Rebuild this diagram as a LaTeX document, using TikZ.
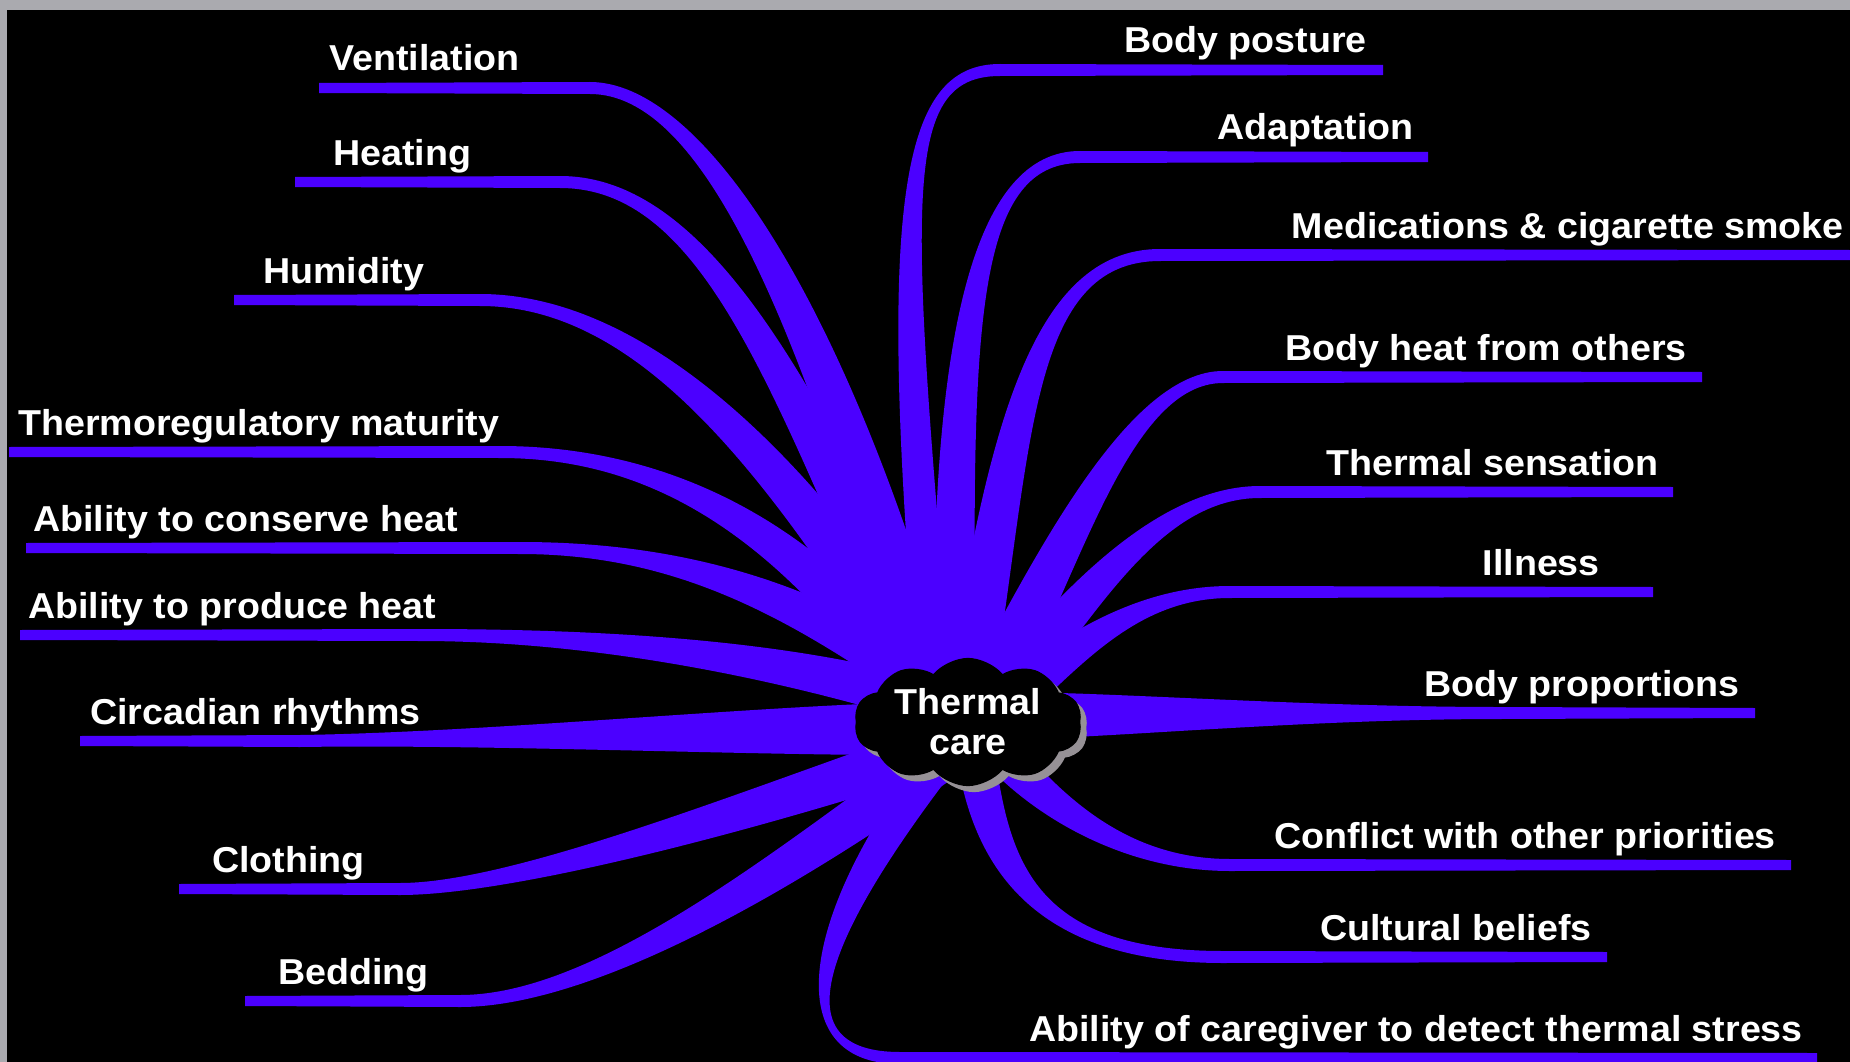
\documentclass[tikz,border=0pt]{standalone}
\usepackage{fontspec}
\setmainfont[FakeStretch=1.045]{Liberation Sans}
\usetikzlibrary{calc,shapes.symbols,shadows}

\definecolor{mindpurple}{RGB}{75,0,255}
\definecolor{framegray}{RGB}{170,170,175}
\definecolor{cloudshade}{RGB}{150,145,150}

\tikzset{
  branch/.style={fill=mindpurple},
  lbl/.style={text=white,inner sep=0pt,font=\bfseries\fontsize{36}{40}\selectfont},
}

% #1 free end, #2 knee, #3 #4 controls, #5 end near the cloud (from ctr),
% #6 half width at the cloud, #7 1 = left side, -1 = right side
\newcommand\branch[7]{%
  \coordinate (bK) at (#2);
  \coordinate (bA) at (#3);
  \coordinate (bB) at (#4);
  \coordinate (bT) at ($(ctr)+(#5)$);
  \pgfmathsetmacro\angA{-90*#7}%
  \pgfmathsetmacro\angB{90*#7}%
  \fill[branch] ($(#1)+(0,-5)$) -- ($(bK)+(0,-6)$)
    .. controls ($(bA)+(0,-6)$) and ($(bB)!#6pt!\angB:(bT)$) .. ($(bT)!#6pt!\angA:(bB)$)
    -- ($(bT)!#6pt!\angB:(bB)$)
    .. controls ($(bB)!#6pt!\angA:(bT)$) and ($(bA)+(0,6)$) .. ($(bK)+(0,6)$)
    -- ($(#1)+(0,5)$) -- cycle;
}

\begin{document}
\begin{tikzpicture}[x=1pt,y=-1pt]
  \useasboundingbox (0,0) rectangle (1850,1062);
  \fill[framegray] (0,0) rectangle (1850,1062);
  \fill[black] (7,10) rectangle (1850,1062);

  \coordinate (ctr) at (968,722);

  % left side
  \node[lbl,anchor=base west] (vent) at (329,71) {Ventilation};
  \node[lbl,anchor=base west] (heat) at (333,165) {Heating};
  \node[lbl,anchor=base west] (humid) at (263,283) {Humidity};
  \node[lbl,anchor=base west] (thermo) at (18,435) {Thermoregulatory maturity};
  \node[lbl,anchor=base west] (cons) at (33,531) {Ability to conserve heat};
  \node[lbl,anchor=base west] (prod) at (28,618) {Ability to produce heat};
  \node[lbl,anchor=base west] (circ) at (90,724) {Circadian rhythms};
  \node[lbl,anchor=base west] (cloth) at (212,872) {Clothing};
  \node[lbl,anchor=base west] (bed) at (278,984) {Bedding};

  \coordinate (vent-e) at (319,88);
  \coordinate (heat-e) at (295,182);
  \coordinate (humid-e) at (234,300);
  \coordinate (thermo-e) at (9,452);
  \coordinate (cons-e) at (26,548);
  \coordinate (prod-e) at (20,635);
  \coordinate (circ-e) at (80,741);
  \coordinate (cloth-e) at (179,889);
  \coordinate (bed-e) at (245,1001);

  % right side
  \node[lbl,anchor=base east] (post) at (1367,53) {Body posture};
  \node[lbl,anchor=base east] (adapt) at (1414,140) {Adaptation};
  \node[lbl,anchor=base east] (med) at (1844,238) {Medications \& cigarette smoke};
  \node[lbl,anchor=base east] (bheat) at (1687,360) {Body heat from others};
  \node[lbl,anchor=base east] (tsens) at (1659,475) {Thermal sensation};
  \node[lbl,anchor=base east] (ill) at (1600,575) {Illness};
  \node[lbl,anchor=base east] (prop) at (1740,696) {Body proportions};
  \node[lbl,anchor=base east] (confl) at (1776,848) {Conflict with other priorities};
  \node[lbl,anchor=base east] (cult) at (1592,940) {Cultural beliefs};
  \node[lbl,anchor=base east] (care) at (1803,1041) {Ability of caregiver to detect thermal stress};

  \coordinate (post-e) at (1383,70);
  \coordinate (adapt-e) at (1428,157);
  \coordinate (med-e) at (1850,255);
  \coordinate (bheat-e) at (1702,377);
  \coordinate (tsens-e) at (1673,492);
  \coordinate (ill-e) at (1653,592);
  \coordinate (prop-e) at (1755,713);
  \coordinate (confl-e) at (1791,865);
  \coordinate (cult-e) at (1607,957);
  \coordinate (care-e) at (1817,1058);

  % branches
  \branch{vent-e}{590,88}{700,88}{820,300}{-38,-32}{25}{1}
  \branch{heat-e}{560,182}{710,182}{800,400}{-33,-22}{25}{1}
  \branch{humid-e}{480,300}{640,300}{790,460}{-28,-17}{25}{1}
  \branch{thermo-e}{500,452}{650,452}{800,520}{-33,-2}{24}{1}
  \branch{cons-e}{520,548}{680,548}{810,600}{-13,-17}{24}{1}
  \branch{prod-e}{420,635}{600,635}{800,660}{-8,-10}{22}{1}
  \branch{circ-e}{300,741}{500,738}{780,730}{-8,6}{27}{1}
  \branch{cloth-e}{400,889}{520,889}{780,800}{-8,18}{23}{1}
  \branch{bed-e}{460,1001}{600,1001}{800,860}{-8,23}{23}{1}

  \branch{post-e}{1000,70}{900,70}{893,200}{-33,-32}{17}{-1}
  \branch{adapt-e}{1080,157}{975,157}{950,330}{-13,-32}{21}{-1}
  \branch{med-e}{1160,255}{1030,255}{1010,440}{2,-32}{23}{-1}
  \branch{bheat-e}{1223,377}{1130,377}{1060,560}{22,-32}{24}{-1}
  \branch{tsens-e}{1260,492}{1160,492}{1080,600}{32,-22}{22}{-1}
  \branch{ill-e}{1230,592}{1130,592}{1060,660}{22,-2}{21}{-1}
  \branch{prop-e}{1500,713}{1300,713}{1100,715}{22,-6}{24}{-1}
  \branch{confl-e}{1230,865}{1120,865}{1040,800}{22,18}{19}{-1}
  \branch{cult-e}{1223,957}{1030,957}{990,860}{7,28}{19}{-1}
  \branch{care-e}{900,1058}{780,1058}{810,930}{-28,38}{17}{-1}

  % centre
  \node[cloud,cloud puffs=10,cloud puff arc=100,aspect=2,
        minimum width=228pt,minimum height=124pt,inner sep=0pt,
        fill=black,text=white,align=center,
        font=\bfseries\fontsize{36}{40}\selectfont,
        drop shadow={shadow xshift=6pt,shadow yshift=-6pt,fill=cloudshade,opacity=1}]
        (tc) at (ctr) {Thermal\\care};
\end{tikzpicture}
\end{document}
